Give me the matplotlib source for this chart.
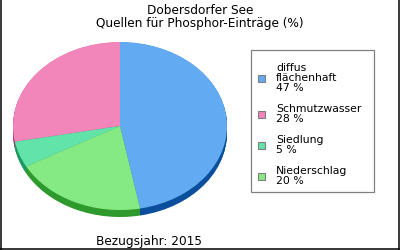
import numpy as np
import matplotlib
matplotlib.use("Agg")
import matplotlib.pyplot as plt
from matplotlib.patches import Rectangle
from matplotlib.lines import Line2D

# Data
labels = ["diffus\nflächenhaft", "Schmutzwasser", "Siedlung", "Niederschlag"]
shares = [47, 28, 5, 20]
top_colors = ["#62aaf2", "#f285b9", "#62e3aa", "#86ea84"]
side_colors = ["#0a4e9c", "#a8457e", "#1c9a63", "#2e9a2e"]
title_lines = ["Dobersdorfer See", "Quellen für Phosphor-Einträge (%)"]
year_note = "Bezugsjahr: 2015"

W, H = 400, 250
fig = plt.figure(figsize=(4, 2.5), dpi=100)


def fx(px):
    return px / W


def fy(py):
    return 1 - py / H


# pie: top face ellipse centred at (120,126) px, radii 107 x 84 px, 7 px deep
cx, cy, rx, ry, depth = 120, 126, 107, 84, 7
pad = depth + 3
ax = fig.add_axes([fx(cx - rx), fy(cy + ry + pad), 2 * rx / W, (2 * ry + pad) / H])

start = 90 - shares[0] / sum(shares) * 360
for s in np.linspace(depth / ry, 0.004, 10):
    ax.pie(shares, colors=side_colors, startangle=start, center=(0, -s),
           wedgeprops=dict(linewidth=0))
ax.pie(shares, colors=top_colors, startangle=start,
       wedgeprops=dict(linewidth=0))
ax.set_aspect("auto")
ax.set_xlim(-1, 1)
ax.set_ylim(-1 - pad / ry, 1)
ax.axis("off")

# titles
fig.text(fx(200), fy(10), title_lines[0], ha="center", va="center", fontsize=8.7)
fig.text(fx(200), fy(23), title_lines[1], ha="center", va="center", fontsize=8.7)
fig.text(fx(149), fy(241), year_note, ha="center", va="center", fontsize=8.7)

# legend box
fig.add_artist(Rectangle((fx(251), fy(192)), fx(374 - 251), (192 - 50) / H,
                         transform=fig.transFigure, fill=False,
                         edgecolor="#808080", linewidth=0.9))
line_h = 10.7
top = 62
for lab, val, col in zip(labels, shares, top_colors):
    text = f"{lab}\n{val} %"
    n = text.count("\n") + 1
    mid = top + n * line_h / 2
    fig.text(fx(276), fy(mid), text, ha="left", va="center", fontsize=7.8,
             linespacing=0.98)
    fig.add_artist(Rectangle((fx(258), fy(mid + 3.5)), 7 / W, 7 / H,
                             transform=fig.transFigure, facecolor=col,
                             edgecolor="#808080", linewidth=0.8))
    top += n * line_h + 9.5

# outer frame: left, right and bottom only
for xs, ys in [((0.5, 0.5), (0, 249)), ((398.5, 398.5), (0, 249)),
               ((0, 399), (248.7, 248.7))]:
    fig.add_artist(Line2D([fx(x) for x in xs], [fy(y) for y in ys],
                          transform=fig.transFigure, color="black", linewidth=1.1))

fig.savefig("out.png", dpi=100)
